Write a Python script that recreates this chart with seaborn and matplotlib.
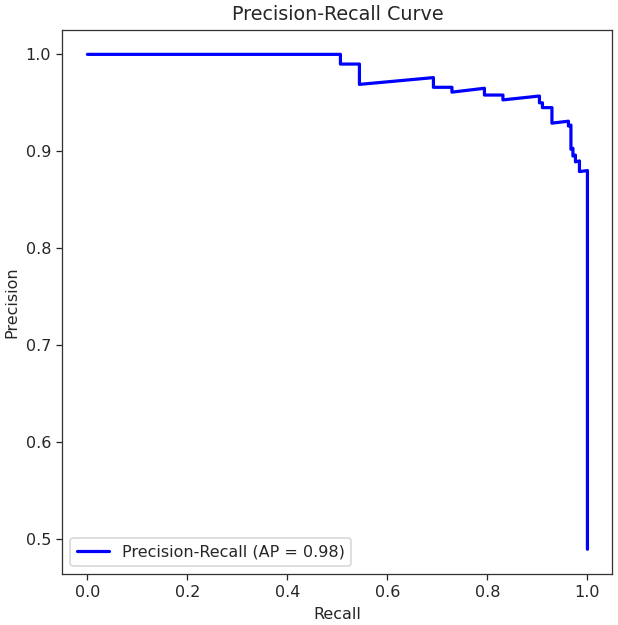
import numpy as np
import matplotlib
matplotlib.use('Agg')
import matplotlib.pyplot as plt
import pandas as pd
import seaborn as sns

# values
recall = [0.0, 0.506, 0.506, 0.544, 0.544, 0.692, 0.692, 0.729, 0.729,
          0.794, 0.794, 0.831, 0.831, 0.904, 0.904, 0.910, 0.910, 0.929,
          0.929, 0.962, 0.962, 0.967, 0.967, 0.971, 0.971, 0.976, 0.976,
          0.984, 0.984, 1.0, 1.0]
precision = [1.0, 1.0, 0.990, 0.990, 0.969, 0.976, 0.966, 0.966, 0.961,
             0.965, 0.958, 0.958, 0.953, 0.957, 0.950, 0.950, 0.945, 0.945,
             0.929, 0.931, 0.926, 0.927, 0.902, 0.903, 0.895, 0.896, 0.889,
             0.890, 0.879, 0.880, 0.489]
ap = 0.98

df = pd.DataFrame({'Recall': recall, 'Precision': precision})

sns.set_style('white')
plt.rcParams['font.family'] = ['DejaVu Sans']
plt.rcParams['axes.edgecolor'] = '.2'

dpi = 115
fig = plt.figure(figsize=(618 / dpi, 625 / dpi), dpi=dpi)
ax = fig.add_axes([0.101, 0.0816, 0.890, 0.871])
sns.lineplot(data=df, x='Recall', y='Precision', sort=False, estimator=None,
             color='blue', linewidth=2, ax=ax,
             label=f'Precision-Recall (AP = {ap:.2f})')
ax.set_title('Precision-Recall Curve', fontsize=12)
ax.set_xlabel('Recall', fontsize=10)
ax.set_ylabel('Precision', fontsize=10)
ax.tick_params(axis='both', which='both', length=3.5, width=0.8,
               labelsize=10, left=True, bottom=True)
for s in ax.spines.values():
    s.set_linewidth(0.8)
ax.legend(loc='lower left', fontsize=10)
fig.savefig('out.png', dpi=dpi)
